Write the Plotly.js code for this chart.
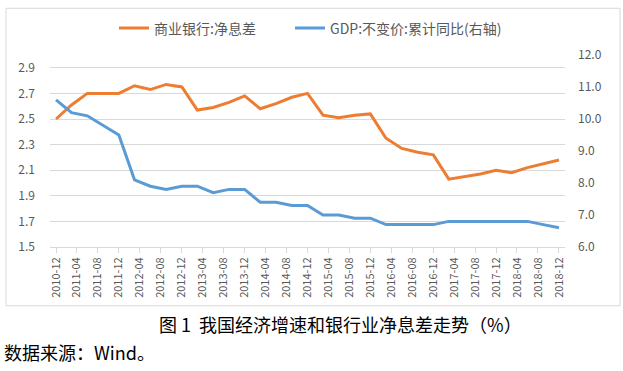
<!DOCTYPE html>
<html>
<head>
<meta charset="utf-8">
<script src="https://cdn.plot.ly/plotly-3.0.1.min.js"></script>
<style>html,body{margin:0;padding:0;background:#fff;}#chart{width:623px;height:371px;}</style>
</head>
<body>
<div id="chart"></div>
<script>
var quarters = ["2010-12-01","2011-03-01","2011-06-01","2011-09-01","2011-12-01",
  "2012-03-01","2012-06-01","2012-09-01","2012-12-01",
  "2013-03-01","2013-06-01","2013-09-01","2013-12-01",
  "2014-03-01","2014-06-01","2014-09-01","2014-12-01",
  "2015-03-01","2015-06-01","2015-09-01","2015-12-01",
  "2016-03-01","2016-06-01","2016-09-01","2016-12-01",
  "2017-03-01","2017-06-01","2017-09-01","2017-12-01",
  "2018-03-01","2018-06-01","2018-09-01","2018-12-01"];
var nimValues = [2.50,2.61,2.70,2.70,2.70,
  2.76,2.73,2.77,2.75,
  2.57,2.59,2.63,2.68,
  2.58,2.62,2.67,2.70,
  2.53,2.51,2.53,2.54,
  2.35,2.27,2.24,2.22,
  2.03,2.05,2.07,2.10,
  2.08,2.12,2.15,2.18];
var gdpValues = [10.6,10.2,10.1,9.8,9.5,
  8.1,7.9,7.8,7.9,
  7.9,7.7,7.8,7.8,
  7.4,7.4,7.3,7.3,
  7.0,7.0,6.9,6.9,
  6.7,6.7,6.7,6.7,
  6.8,6.8,6.8,6.8,
  6.8,6.8,6.7,6.6];
var nimName = "商业银行:净息差";
var gdpName = "GDP:不变价:累计同比(右轴)";
var captionText = "图 1  我国经济增速和银行业净息差走势（%）";
var sourceText = "数据来源：Wind。";

var FONT = "Noto Sans CJK SC, Noto Sans, sans-serif";
var gray = "#595959";

var traces = [
  {x: quarters, y: nimValues, name: nimName, type: "scatter", mode: "lines",
   line: {color: "#ED7D31", width: 3}, yaxis: "y", legend: "legend"},
  {x: quarters, y: gdpValues, name: gdpName, type: "scatter", mode: "lines",
   line: {color: "#5B9BD5", width: 3}, yaxis: "y2", legend: "legend2"}
];

function legendAt(xpx) {
  return {orientation: "h", x: (xpx - 50) / 515, xanchor: "left", y: 1.138, yanchor: "middle",
    font: {size: 14, color: gray, family: FONT}, itemwidth: 30,
    bgcolor: "rgba(0,0,0,0)"};
}

var layout = {
  width: 623, height: 371,
  margin: {l: 50, r: 58, t: 50, b: 124, pad: 0},
  paper_bgcolor: "#fff", plot_bgcolor: "#fff",
  font: {family: FONT, color: gray, size: 11},
  showlegend: true,
  legend: legendAt(114),
  legend2: legendAt(290),
  xaxis: {type: "date", range: ["2010-10-27", "2019-01-05"],
    tick0: "2010-12-01", dtick: "M4", tickformat: "%Y-%m", tickangle: -90,
    showgrid: false, showline: true, linecolor: "#d9d9d9", linewidth: 1,
    ticks: "outside", ticklen: 5, tickcolor: "#d9d9d9",
    tickfont: {size: 11, color: gray, family: FONT}, zeroline: false},
  yaxis: {range: [1.5, 3.0], tick0: 1.5, dtick: 0.2, tickformat: ".1f",
    showgrid: true, gridcolor: "#d9d9d9", gridwidth: 1, zeroline: false,
    showline: false, ticks: "", ticklabelstandoff: 14,
    tickfont: {size: 12, color: gray, family: FONT}},
  yaxis2: {range: [6, 12], dtick: 1, tick0: 6, tickformat: ".1f",
    overlaying: "y", side: "right", showgrid: false, zeroline: false,
    showline: false, ticks: "", ticklabelstandoff: 12,
    tickfont: {size: 12, color: gray, family: FONT}},
  shapes: [
    {type: "rect", xref: "paper", yref: "paper",
     x0: (6-50)/515, x1: (620-50)/515, y0: -(307.7-247.3)/197.3, y1: 1+(50-2)/197.3,
     line: {color: "#d9d9d9", width: 1}, fillcolor: "rgba(0,0,0,0)", layer: "below"}
  ],
  annotations: [
    {xref: "paper", yref: "paper", x: (340-50)/515, y: -(326-247.3)/197.3,
     xanchor: "center", yanchor: "middle", showarrow: false, text: captionText,
     font: {size: 18, color: "#000", family: FONT}},
    {xref: "paper", yref: "paper", x: (2-50)/515, y: -(355-247.3)/197.3,
     xanchor: "left", yanchor: "middle", showarrow: false, text: sourceText,
     font: {size: 18, color: "#000", family: FONT}}
  ]
};

Plotly.newPlot("chart", traces, layout, {displayModeBar: false, staticPlot: true});
</script>
</body>
</html>
